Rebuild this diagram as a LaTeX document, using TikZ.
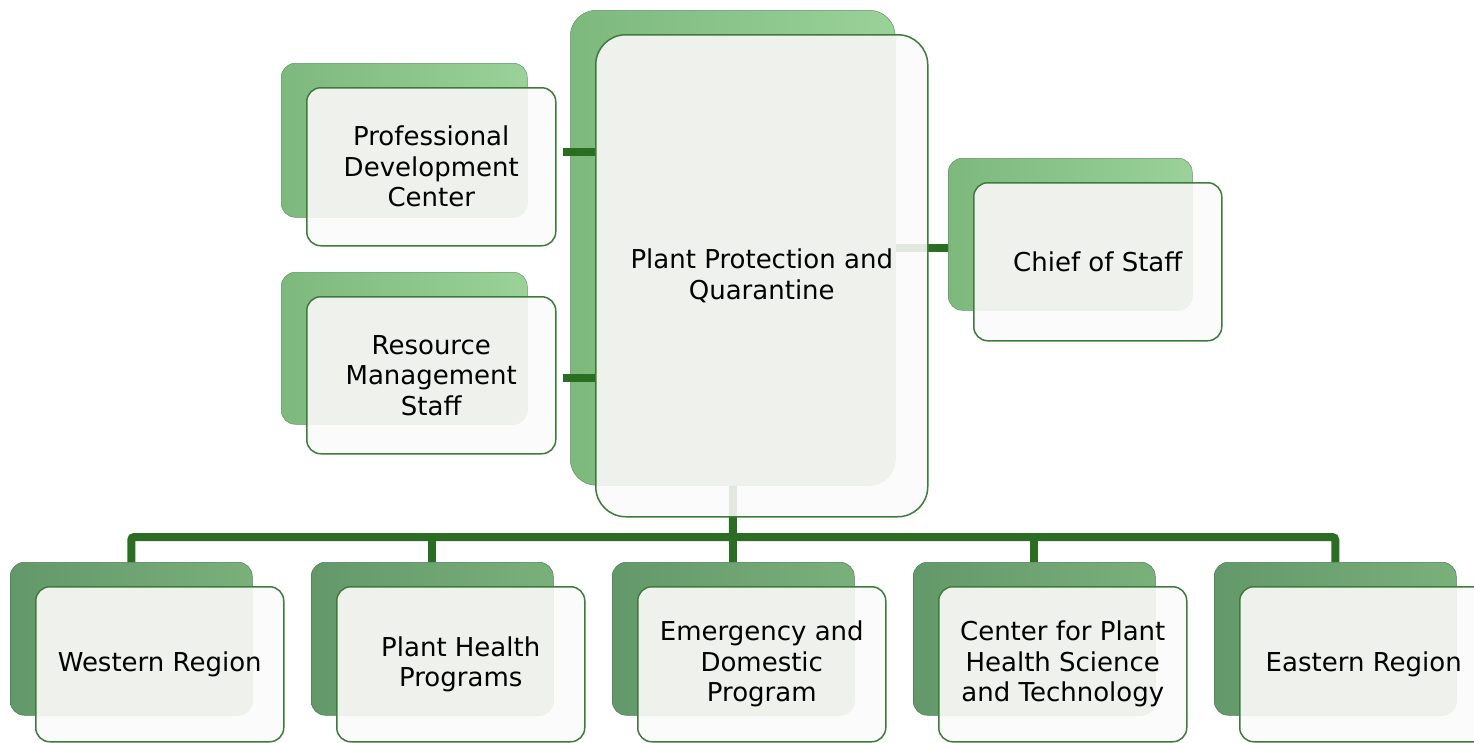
\documentclass[tikz,border=0pt]{standalone}
\usepackage{fontspec}
\setmainfont{DejaVu Sans}
\pgfdeclarelayer{backl}
\pgfdeclarelayer{connl}
\pgfsetlayers{backl,connl,main}
\definecolor{conncol}{HTML}{2A6D23}
\definecolor{edgecol}{HTML}{3E7B3B}
\definecolor{frontfill}{HTML}{FCFAFA}
\definecolor{overlap}{HTML}{EFF1ED}
\definecolor{topdark}{HTML}{7DB87D}
\definecolor{toplight}{HTML}{9AD29A}
\definecolor{botdark}{HTML}{63986A}
\definecolor{botlight}{HTML}{7AB07A}
\tikzset{
  x=1pt, y=-1pt,
  backgen/.style={inner sep=0pt, shading=axis, shading angle=90},
  backtop/.style={backgen, rounded corners=14pt, left color=topdark, right color=toplight, draw=topdark!80!black, line width=0.5pt},
  backbig/.style={backgen, rounded corners=26pt, left color=topdark, right color=toplight, draw=topdark!80!black, line width=0.5pt},
  backbot/.style={backgen, rounded corners=14pt, left color=botdark, right color=botlight, draw=botdark!80!black, line width=0.5pt},
  frontgen/.style={inner sep=0pt, draw=edgecol, line width=1.5pt, fill=frontfill, fill opacity=0.88, text opacity=1, draw opacity=1, align=center, text=black, font=\fontsize{26}{30.5}\selectfont},
  fronttop/.style={frontgen, rounded corners=14pt},
  frontbot/.style={frontgen, rounded corners=14pt},
  frontbig/.style={frontgen, rounded corners=30pt},
  ovltop/.style={rounded corners=14pt},
  ovlbot/.style={rounded corners=14pt},
  ovlbig/.style={rounded corners=26pt},
  conn/.style={draw=conncol, line width=8pt, rounded corners=3pt}
}
\newcommand\orgunit[9]{%
  \begin{pgfonlayer}{backl}
    \node[back#9, anchor=north west, minimum width=#4, minimum height=#5] (#1b) at (#2,#3) {};
  \end{pgfonlayer}
  \node[front#9, anchor=north west, minimum width=#6, minimum height=#7,
        path picture={\fill[overlap, fill opacity=1, ovl#9] (#1b.north west) rectangle (#1b.south east);}]
        (#1) at ({#2+25},{#3+24}) {#8};
}
\begin{document}
\begin{tikzpicture}
\useasboundingbox (0,0) rectangle (1474,742);
% top part
\orgunit{ppq}{570}{10}{325}{475}{332}{482}{Plant Protection and\\Quarantine}{big}
\orgunit{pdc}{281}{63}{246}{154}{249}{158}{Professional\\Development\\Center}{top}
\orgunit{rms}{281}{272}{246}{152}{249}{157}{Resource\\Management\\Staff}{top}
\orgunit{cos}{948}{158}{244}{152}{248}{158}{Chief of Staff}{top}
% bottom row
\orgunit{wr}{10}{562}{242}{153}{248}{155}{Western Region}{bot}
\orgunit{php}{311}{562}{242}{153}{248}{155}{Plant Health\\Programs}{bot}
\orgunit{edp}{612}{562}{242}{153}{248}{155}{Emergency and\\Domestic\\Program}{bot}
\orgunit{cph}{913}{562}{242}{153}{248}{155}{Center for Plant\\Health Science\\and Technology}{bot}
\orgunit{er}{1214}{562}{242}{153}{248}{155}{Eastern Region}{bot}
% connectors
\coordinate (bus) at (733,537);
\begin{pgfonlayer}{connl}
  \draw[conn] (ppqb.south) -- (bus);
  \draw[conn] (wrb.north) |- (bus) -| (erb.north);
  \foreach \n in {phpb,edpb,cphb} \draw[conn] (\n.north) -- (\n.north |- bus);
  \draw[conn, rounded corners=0pt] (ppqb.east) -- (ppqb.east -| cosb.west);
  \draw[conn, rounded corners=0pt] ([xshift=6pt,yshift=15pt]pdc.east) -- ([yshift=15pt]pdc.east -| ppq.west);
  \draw[conn, rounded corners=0pt] ([xshift=6pt,yshift=-3pt]rms.east) -- ([yshift=-3pt]rms.east -| ppq.west);
\end{pgfonlayer}
\end{tikzpicture}
\end{document}
